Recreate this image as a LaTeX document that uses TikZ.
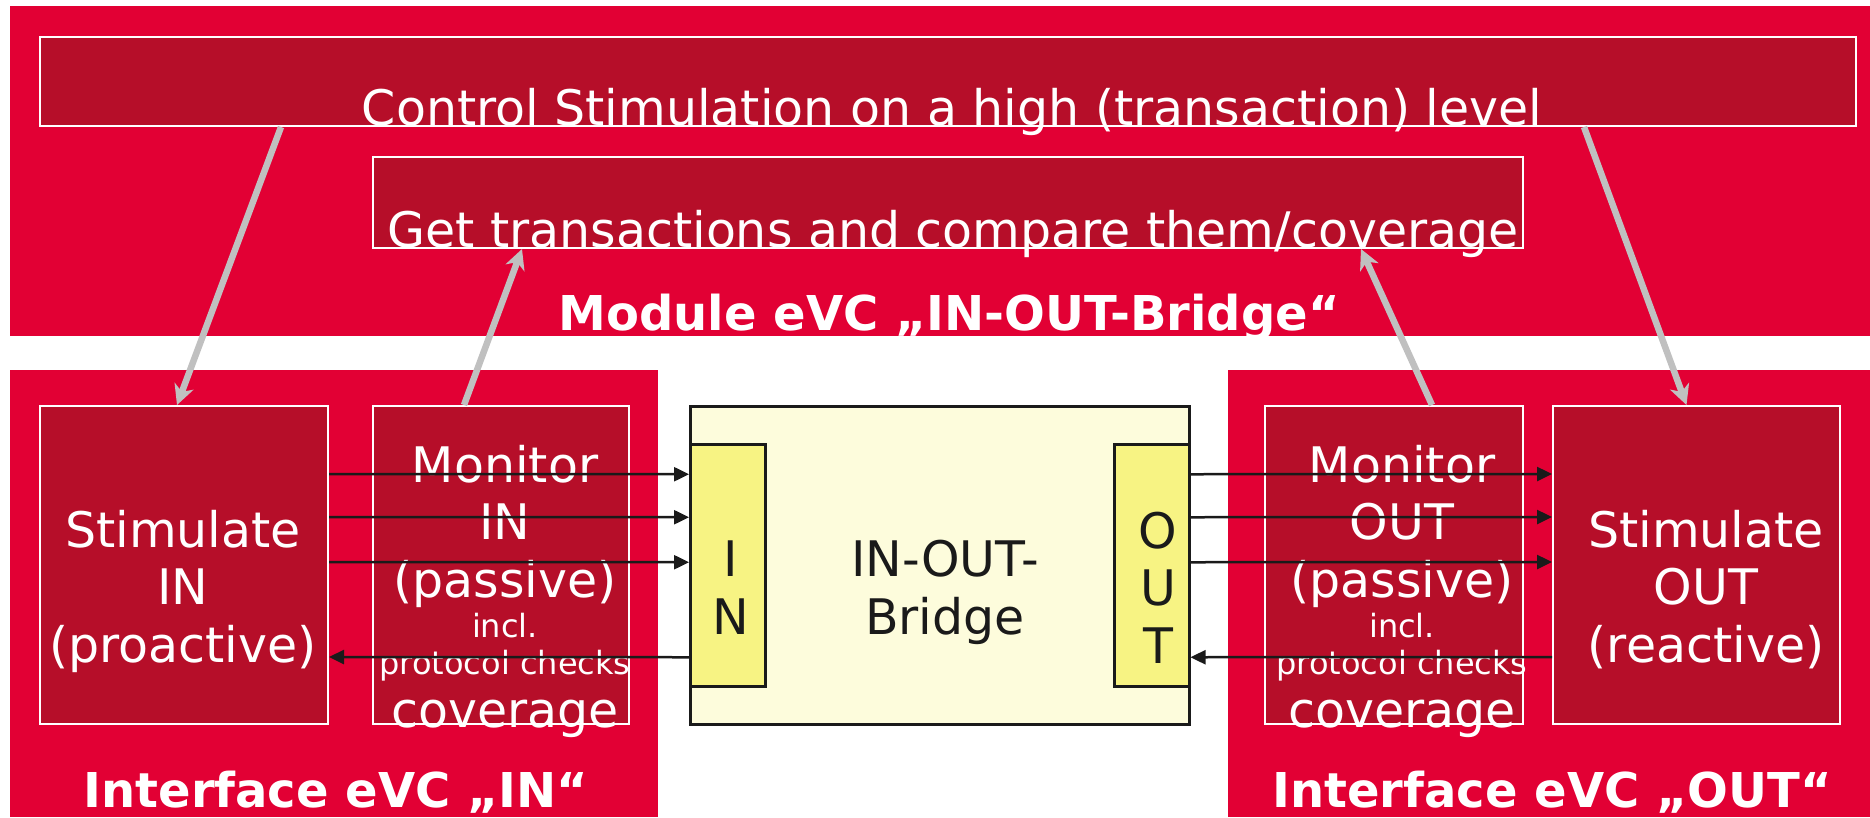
\documentclass[tikz,border=0pt]{standalone}
\usepackage{fontspec}
\setmainfont{DejaVu Sans}
\usetikzlibrary{arrows.meta}
\definecolor{evcred}{HTML}{E20034}
\definecolor{evcdark}{HTML}{B60E29}
\definecolor{evcarrow}{HTML}{C0C0C0}
\definecolor{dutfill}{HTML}{FDFCDC}
\definecolor{dutport}{HTML}{F7F383}
\definecolor{dutline}{HTML}{1A1A1A}
\tikzset{
  evc frame/.style={
    rectangle, fill=evcred, draw=none,
    anchor=north west, inner sep=0pt
  },
  evc unit/.style={
    rectangle, fill=evcdark, draw=white, line width=2pt,
    anchor=north west, inner sep=0pt
  },
  evc text/.style={
    text=white, font=\fontsize{49}{57.5}\selectfont,
    align=center, inner sep=0pt, anchor=base
  },
  evc small/.style={evc text, font=\fontsize{32}{37}\selectfont},
  evc title/.style={evc text, font=\fontsize{48}{57.5}\selectfont\bfseries},
  dut box/.style={
    rectangle, fill=dutfill, draw=dutline, line width=2.5pt,
    anchor=north west, inner sep=0pt
  },
  dut port/.style={dut box, fill=dutport},
  dut text/.style={evc text, text=dutline},
  signal arrow/.style={
    draw=dutline, line width=2.5pt,
    -{Triangle[length=15pt,width=14pt]}
  },
  control arrow/.style={
    draw=evcarrow, line width=6.5pt,
    -{Stealth[length=20pt,width=20pt,inset=6pt]}
  }
}

\begin{document}
\begin{tikzpicture}[x=1pt,y=-1pt]
  \useasboundingbox (0,0) rectangle (1870,817);

  % module eVC
  \node[evc frame,minimum width=1860pt,minimum height=330pt] (module) at (10,6) {};
  \node[evc unit,minimum width=1816pt,minimum height=89pt] (ctrl) at (39,36) {};
  \node[evc unit,minimum width=1150pt,minimum height=91pt] (getcmp) at (372,156) {};
  \node[evc text] (ctrllabel) at (952,125) {Control Stimulation on a high (transaction) level};
  \node[evc text] (getcmplabel) at (953,247) {Get transactions and compare them/coverage};
  \node[evc title] (moduletitle) at (949,330) {Module eVC „IN-OUT-Bridge“};

  % interface eVCs
  \node[evc frame,minimum width=648pt,minimum height=447pt] (ifin) at (10,370) {};
  \node[evc frame,minimum width=642pt,minimum height=447pt] (ifout) at (1228,370) {};
  \node[evc unit,minimum width=288pt,minimum height=318pt] (stimin) at (39,405) {};
  \node[evc unit,minimum width=256pt,minimum height=318pt] (monin) at (372,405) {};
  \node[evc unit,minimum width=258pt,minimum height=318pt] (monout) at (1264,405) {};
  \node[evc unit,minimum width=287pt,minimum height=318pt] (stimout) at (1552,405) {};
  \node[evc title] (ifintitle) at (336,807) {Interface eVC „IN“};
  \node[evc title] (ifouttitle) at (1552,807) {Interface eVC „OUT“};

  \node[evc text] (stiminlabel) at (183,662) {Stimulate\\IN\\(proactive)};
  \node[evc text] (moninlabel) at (505,597) {Monitor\\IN\\(passive)};
  \node[evc small] (moninchecks) at (505,674) {incl.\\protocol checks};
  \node[evc text] (ownincov) at (505,727) {coverage};
  \node[evc text] (monoutlabel) at (1402,597) {Monitor\\OUT\\(passive)};
  \node[evc small] (monoutchecks) at (1402,674) {incl.\\protocol checks};
  \node[evc text] (monoutcov) at (1402,727) {coverage};
  \node[evc text] (stimoutlabel) at (1706,662) {Stimulate\\OUT\\(reactive)};

  % DUT
  \node[dut box,minimum width=499pt,minimum height=318pt] (bridge) at (689,405) {};
  \node[dut port,minimum width=75pt,minimum height=242pt] (portin) at (689,443) {};
  \node[dut port,minimum width=75pt,minimum height=242pt] (portout) at (1113,443) {};
  \node[dut text] (bridgelabel) at (945,634) {IN-OUT-\\Bridge};
  \node[dut text] (portinlabel) at (731,634) {I\\N};
  \node[dut text] (portoutlabel) at (1158,663) {O\\U\\T};

  % signals
  \foreach \dy in {91,48,3} {
    \draw[signal arrow] ([yshift=\dy pt]stimin.east) -- ([yshift=\dy pt]portin.west);
    \draw[signal arrow] ([yshift=\dy pt]portout.east) -- ([yshift=\dy pt]stimout.west);
  }
  \draw[signal arrow] ([yshift=-92pt]portin.west) -- ([yshift=-92pt]stimin.east);
  \draw[signal arrow] ([yshift=-92pt]stimout.west) -- ([yshift=-92pt]portout.east);

  % control flow
  \draw[control arrow] ([xshift=-667pt]ctrl.south) -- ([xshift=-7pt]stimin.north);
  \draw[control arrow] ([xshift=-37pt]monin.north) -- ([xshift=-426pt]getcmp.south);
  \draw[control arrow] ([xshift=38pt]monout.north) -- ([xshift=413pt]getcmp.south);
  \draw[control arrow] ([xshift=636pt]ctrl.south) -- ([xshift=-10pt]stimout.north);
\end{tikzpicture}
\end{document}
